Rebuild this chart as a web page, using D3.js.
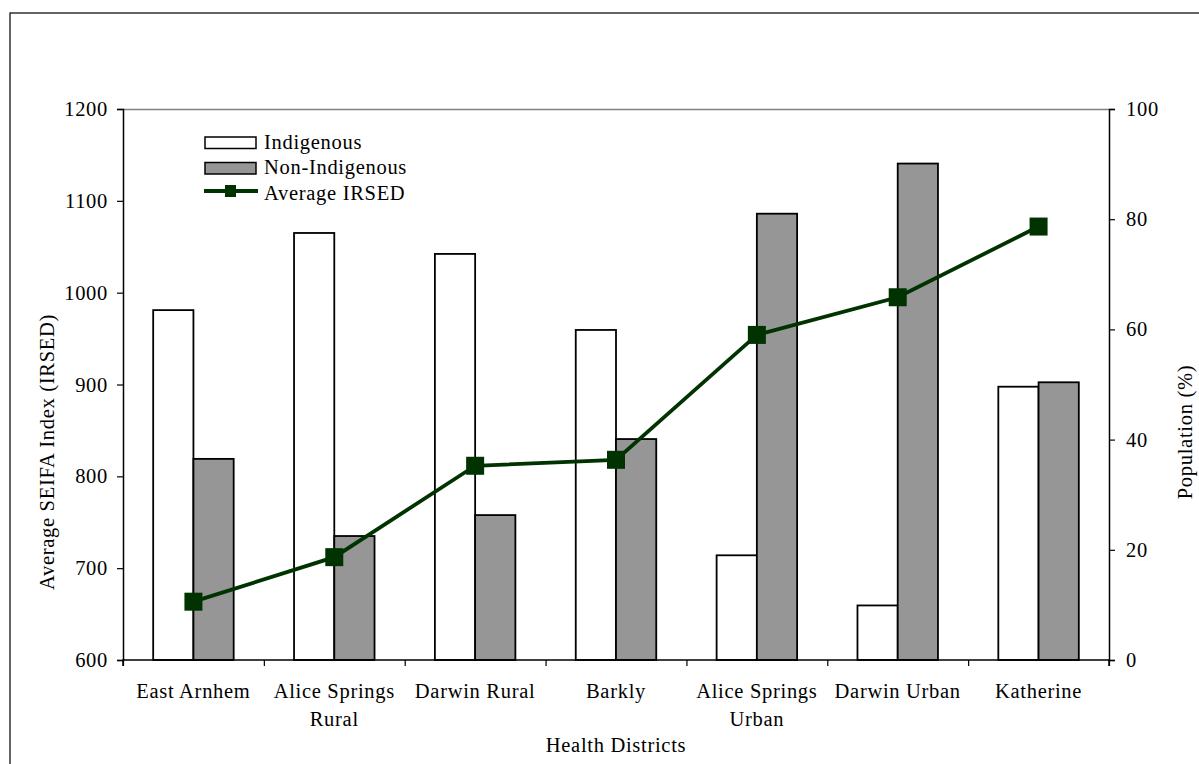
<!DOCTYPE html>
<html>
<head>
<meta charset="utf-8">
<script src="https://cdn.jsdelivr.net/npm/d3@7"></script>
<style>
  html, body { margin: 0; padding: 0; background: #fff; }
  svg text { font-family: "Liberation Serif", "Times New Roman", serif; fill: #000; letter-spacing: 0.7px; }
</style>
</head>
<body>
<svg id="chart" width="1199" height="764"></svg>
<script>
// Health districts of the Northern Territory
const districts = [
  ["East Arnhem"],
  ["Alice Springs", "Rural"],
  ["Darwin Rural"],
  ["Barkly"],
  ["Alice Springs", "Urban"],
  ["Darwin Urban"],
  ["Katherine"]
];
// Population share (%) by district
const indigenousPct    = [63.5, 77.5, 73.7, 59.9, 19.0, 9.9, 49.6];
const nonIndigenousPct = [36.5, 22.5, 26.3, 40.1, 81.0, 90.1, 50.4];
// Average IRSED score by district
const avgIRSED = [663.5, 712, 811.5, 818, 954, 995, 1072];

const leftTicks  = [600, 700, 800, 900, 1000, 1100, 1200];
const rightTicks = [0, 20, 40, 60, 80, 100];

const svg = d3.select("#chart");
const m = { left: 123, right: 1109, top: 109, bottom: 660 };
const fontSize = 20.5;
const serif = "'Liberation Serif', 'Times New Roman', serif";

// Outer chart frame
svg.append("rect")
  .attr("x", 10).attr("y", 13)
  .attr("width", 1210).attr("height", 780)
  .attr("fill", "none").attr("stroke", "#000").attr("stroke-width", 1.2);

const x = d3.scaleBand()
  .domain(districts.map((d, i) => i))
  .range([m.left, m.right])
  .paddingInner(0).paddingOuter(0);

const yL = d3.scaleLinear().domain([600, 1200]).range([m.bottom, m.top]);
const yR = d3.scaleLinear().domain([0, 100]).range([m.bottom, m.top]);

// Top border of plot area
svg.append("line")
  .attr("x1", m.left).attr("x2", m.right)
  .attr("y1", m.top + 0.5).attr("y2", m.top + 0.5)
  .attr("stroke", "#808080").attr("stroke-width", 1.5);

// Bars (right axis)
const band = x.bandwidth();
const barW = band / 3.5;
const g = svg.append("g");
districts.forEach((d, i) => {
  const cx = x(i) + band / 2;
  g.append("rect")
    .attr("x", cx - barW).attr("y", yR(indigenousPct[i]))
    .attr("width", barW).attr("height", yR(0) - yR(indigenousPct[i]))
    .attr("fill", "#fff").attr("stroke", "#000").attr("stroke-width", 1.8);
  g.append("rect")
    .attr("x", cx).attr("y", yR(nonIndigenousPct[i]))
    .attr("width", barW).attr("height", yR(0) - yR(nonIndigenousPct[i]))
    .attr("fill", "#969696").attr("stroke", "#000").attr("stroke-width", 1.8);
});

// Axes
const leftAxis = svg.append("g")
  .attr("transform", `translate(${m.left},0)`)
  .call(d3.axisLeft(yL).tickValues(leftTicks).tickSize(6).tickPadding(9).tickFormat(d3.format("d")));
const rightAxis = svg.append("g")
  .attr("transform", `translate(${m.right},0)`)
  .call(d3.axisRight(yR).tickValues(rightTicks).tickSize(6).tickPadding(11).tickFormat(d3.format("d")));
const xTickScale = d3.scaleLinear().domain([0, districts.length]).range([m.left, m.right]);
const bottomAxis = svg.append("g")
  .attr("transform", `translate(0,${m.bottom})`)
  .call(d3.axisBottom(xTickScale).tickValues(d3.range(0, districts.length + 1)).tickSize(6).tickFormat(""));

[leftAxis, rightAxis, bottomAxis].forEach(a => {
  a.attr("font-family", serif).attr("font-size", fontSize);
  a.select(".domain").attr("stroke", "#000").attr("stroke-width", 1.5);
  a.selectAll(".tick line").attr("stroke", "#000").attr("stroke-width", 1.2);
  a.selectAll(".tick text").attr("font-size", fontSize).attr("fill", "#000");
});
bottomAxis.select(".domain").attr("d", `M${m.left},6V0H${m.right}V6`);

// Category labels
districts.forEach((lines, i) => {
  const t = svg.append("text")
    .attr("x", x(i) + band / 2).attr("y", 698)
    .attr("text-anchor", "middle").attr("font-size", fontSize);
  lines.forEach((ln, j) => {
    t.append("tspan").attr("x", x(i) + band / 2).attr("dy", j === 0 ? 0 : 28).text(ln);
  });
});

// Line (left axis)
const lineColor = "#003300";
const line = d3.line()
  .x((d, i) => x(i) + band / 2)
  .y(d => yL(d));
svg.append("path")
  .datum(avgIRSED)
  .attr("d", line)
  .attr("fill", "none").attr("stroke", lineColor).attr("stroke-width", 3.8);
const ms = 18;
svg.selectAll(".marker").data(avgIRSED).enter().append("rect")
  .attr("x", (d, i) => x(i) + band / 2 - ms / 2)
  .attr("y", d => yL(d) - ms / 2)
  .attr("width", ms).attr("height", ms)
  .attr("fill", lineColor);

// Axis titles
svg.append("text")
  .attr("transform", "translate(54,452) rotate(-90)")
  .attr("text-anchor", "middle").attr("font-size", fontSize)
  .text("Average SEIFA Index (IRSED)");
svg.append("text")
  .attr("transform", "translate(1192,432) rotate(-90)")
  .attr("text-anchor", "middle").attr("font-size", fontSize)
  .text("Population (%)");
svg.append("text")
  .attr("x", 616).attr("y", 752)
  .attr("text-anchor", "middle").attr("font-size", fontSize)
  .text("Health Districts");

// Legend
const lg = svg.append("g");
lg.append("rect").attr("x", 205).attr("y", 137).attr("width", 51).attr("height", 11.5)
  .attr("fill", "#fff").attr("stroke", "#000").attr("stroke-width", 1.5);
lg.append("text").attr("x", 264).attr("y", 148.5).attr("font-size", fontSize).text("Indigenous");
lg.append("rect").attr("x", 205).attr("y", 162.5).attr("width", 51).attr("height", 11.5)
  .attr("fill", "#969696").attr("stroke", "#000").attr("stroke-width", 1.5);
lg.append("text").attr("x", 264).attr("y", 174).attr("font-size", fontSize).text("Non-Indigenous");
lg.append("line").attr("x1", 204).attr("x2", 258).attr("y1", 191).attr("y2", 191)
  .attr("stroke", lineColor).attr("stroke-width", 3.8);
lg.append("rect").attr("x", 225).attr("y", 185).attr("width", 11).attr("height", 12).attr("fill", lineColor);
lg.append("text").attr("x", 264).attr("y", 199.5).attr("font-size", fontSize).text("Average IRSED");
</script>
</body>
</html>
